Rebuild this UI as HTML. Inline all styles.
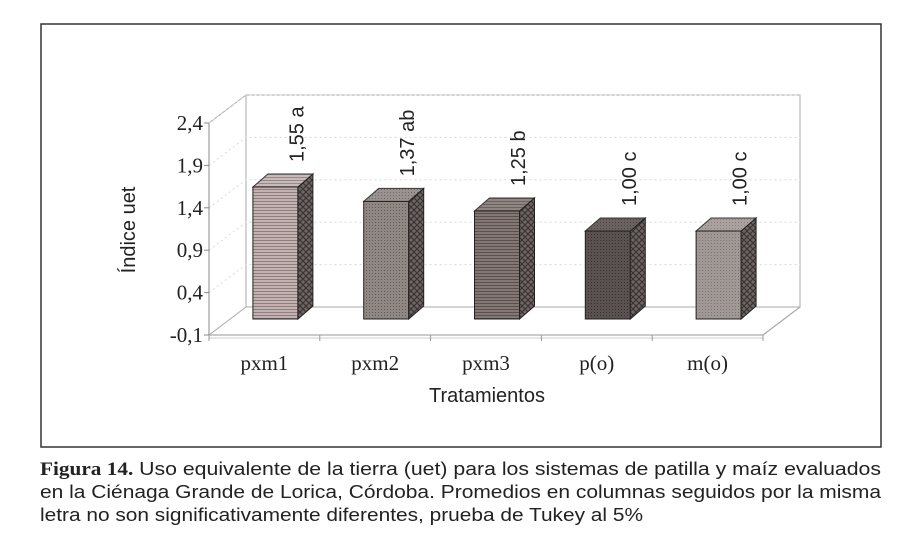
<!DOCTYPE html>
<html><head><meta charset="utf-8"><style>
html,body{margin:0;padding:0;background:#fff;width:900px;height:545px;overflow:hidden}
svg{display:block}
</style></head><body>
<svg id="chart" width="900" height="545" viewBox="0 0 900 545" xmlns="http://www.w3.org/2000/svg">
<defs>
<pattern id="hstripe" width="4" height="3" patternUnits="userSpaceOnUse"><rect width="4" height="3" fill="#c4b2b2"/><rect width="4" height="1" fill="#8e7e7e"/></pattern>
<pattern id="dots" width="3" height="3" patternUnits="userSpaceOnUse"><rect width="3" height="3" fill="#8f8784"/><rect width="1" height="1" fill="#625a58"/></pattern>
<pattern id="hstripe2" width="4" height="3" patternUnits="userSpaceOnUse"><rect width="4" height="3" fill="#847874"/><rect width="4" height="1" fill="#5a5050"/></pattern>
<pattern id="dark" width="3" height="3" patternUnits="userSpaceOnUse"><rect width="3" height="3" fill="#5a5250"/><rect width="1" height="1" fill="#36302e"/></pattern>
<pattern id="light" width="3" height="3" patternUnits="userSpaceOnUse"><rect width="3" height="3" fill="#a09894"/><rect width="1" height="1" fill="#7c7470"/></pattern>
<pattern id="check" width="6" height="6" patternUnits="userSpaceOnUse"><rect width="6" height="6" fill="#6e6664"/><path d="M0 0L6 6M6 0L0 6" stroke="#3a3432" stroke-width="1.2"/></pattern>
</defs>
<rect x="41" y="24" width="840" height="423" fill="none" stroke="#333" stroke-width="1.5"/>
<g id="plot"></g>
<text transform="translate(135,230) rotate(-90)" text-anchor="middle" font-family="Liberation Sans, sans-serif" font-size="20" fill="#222">Índice uet</text>
<text x="487" y="402" text-anchor="middle" font-family="Liberation Sans, sans-serif" font-size="20" fill="#222">Tratamientos</text>
<g font-family="Liberation Sans, sans-serif" font-size="18.5" fill="#222">
<text x="40" y="475" textLength="841" lengthAdjust="spacingAndGlyphs"><tspan font-weight="bold" font-family="Liberation Serif, serif">Figura 14.</tspan> Uso equivalente de la tierra (uet) para los sistemas de patilla y maíz evaluados</text>
<text x="40" y="498" textLength="841" lengthAdjust="spacingAndGlyphs">en la Ciénaga Grande de Lorica, Córdoba. Promedios en columnas seguidos por la misma</text>
<text x="40" y="521" textLength="603" lengthAdjust="spacingAndGlyphs">letra no son significativamente diferentes, prueba de Tukey al 5%</text>
</g>
</svg>
<script>
const categories = ["pxm1","pxm2","pxm3","p(o)","m(o)"];
const values = [1.55,1.37,1.25,1.00,1.00];
const valueLabels = ["1,55 a","1,37 ab","1,25 b","1,00 c","1,00 c"];
const tickValues = [-0.1,0.4,0.9,1.4,1.9,2.4];
const tickLabels = ["-0,1","0,4","0,9","1,4","1,9","2,4"];

const NS="http://www.w3.org/2000/svg";
const g=document.getElementById('plot');
function mk(t,a,p){const e=document.createElementNS(NS,t);for(const k in a)e.setAttribute(k,a[k]);(p||g).appendChild(e);return e;}
const x0=209, x1=763, yFront0=335, yFront1=123, dx=37, dy=-28;
const vmin=-0.1, vmax=2.4;
function yAxis(v){return yFront0-(v-vmin)/(vmax-vmin)*(yFront0-yFront1);}
const catW=(x1-x0)/categories.length;
function xCat(i){return x0+catW*(i+0.5);}
const barBase=319, barK=80;
function yBar(v){return barBase-(v-vmin)*barK;}

const wall=mk('g',{});


mk('path',{d:`M${x0} ${yFront0}L${x0} ${yFront1}L${x0+dx} ${yFront1+dy}L${x0+dx} ${yFront0+dy}Z`,fill:'#fff',stroke:'#aaa','stroke-width':1},wall);
mk('path',{d:`M${x0+dx} ${yFront1+dy}L${x1+dx} ${yFront1+dy}L${x1+dx} ${yFront0+dy}L${x0+dx} ${yFront0+dy}`,fill:'none',stroke:'#aaa','stroke-width':1},wall);
mk('path',{d:`M${x0} ${yFront0}L${x1} ${yFront0}L${x1+dx} ${yFront0+dy}`,fill:'none',stroke:'#aaa','stroke-width':1.2},wall);
mk('path',{d:`M${x0} ${yFront0+3}L${x1} ${yFront0+3}`,fill:'none',stroke:'#ccc','stroke-width':1},wall);
tickValues.forEach((v,i)=>{
  const y=yAxis(v);
  if(i>0){
    const gl=mk('path',{d:`M${x0} ${y}L${x0+dx} ${y+dy}L${x1+dx} ${y+dy}`,fill:'none',stroke:'#d8d8d8','stroke-width':1,'stroke-dasharray':'2 3'});
    
    
  }
  mk('line',{x1:x0-5,y1:y,x2:x0,y2:y,stroke:'#888'});
  const t=mk('text',{x:x0-6,y:y+7,'text-anchor':'end','font-family':'Liberation Serif, serif','font-size':21,fill:'#222'});
  t.textContent=tickLabels[i];
  
  
});
mk('line',{x1:x0,y1:yFront0,x2:x0,y2:yFront1,stroke:'#888'});
for(let i=0;i<=categories.length;i++){const x=x0+catW*i;mk('line',{x1:x,y1:yFront0,x2:x,y2:yFront0+6,stroke:'#999'});}

const fronts=['url(#hstripe)','url(#dots)','url(#hstripe2)','url(#dark)','url(#light)'];
const w=45, bdx=15, bdy=-13;
categories.forEach((c,i)=>{
  const cx=xCat(i)+11, xl=cx-w/2, xr=cx+w/2;
  const yt=yBar(values[i]);
  const bar=mk('g',{});
  
  
  mk('rect',{x:xl,y:yt,width:w,height:barBase-yt,fill:fronts[i],stroke:'#222','stroke-width':1},bar);
  mk('path',{d:`M${xr} ${yt}L${xr+bdx} ${yt+bdy}L${xr+bdx} ${barBase+bdy}L${xr} ${barBase}Z`,fill:'url(#check)',stroke:'#222','stroke-width':1},bar);
  mk('path',{d:`M${xl} ${yt}L${xl+bdx} ${yt+bdy}L${xr+bdx} ${yt+bdy}L${xr} ${yt}Z`,fill:fronts[i],stroke:'#222','stroke-width':1,opacity:0.9},bar);
  const lx=cx+28, ly=yt-25;
  const lab=mk('text',{transform:`translate(${lx},${ly}) rotate(-90)`,'font-family':'Liberation Sans, sans-serif','font-size':20,fill:'#222'});
  lab.textContent=valueLabels[i];
  
  
  const cl=mk('text',{x:xCat(i),y:370,'text-anchor':'middle','font-family':'Liberation Serif, serif','font-size':21,fill:'#222'});
  cl.textContent=c;
  
  
});
</script>
</body></html>
